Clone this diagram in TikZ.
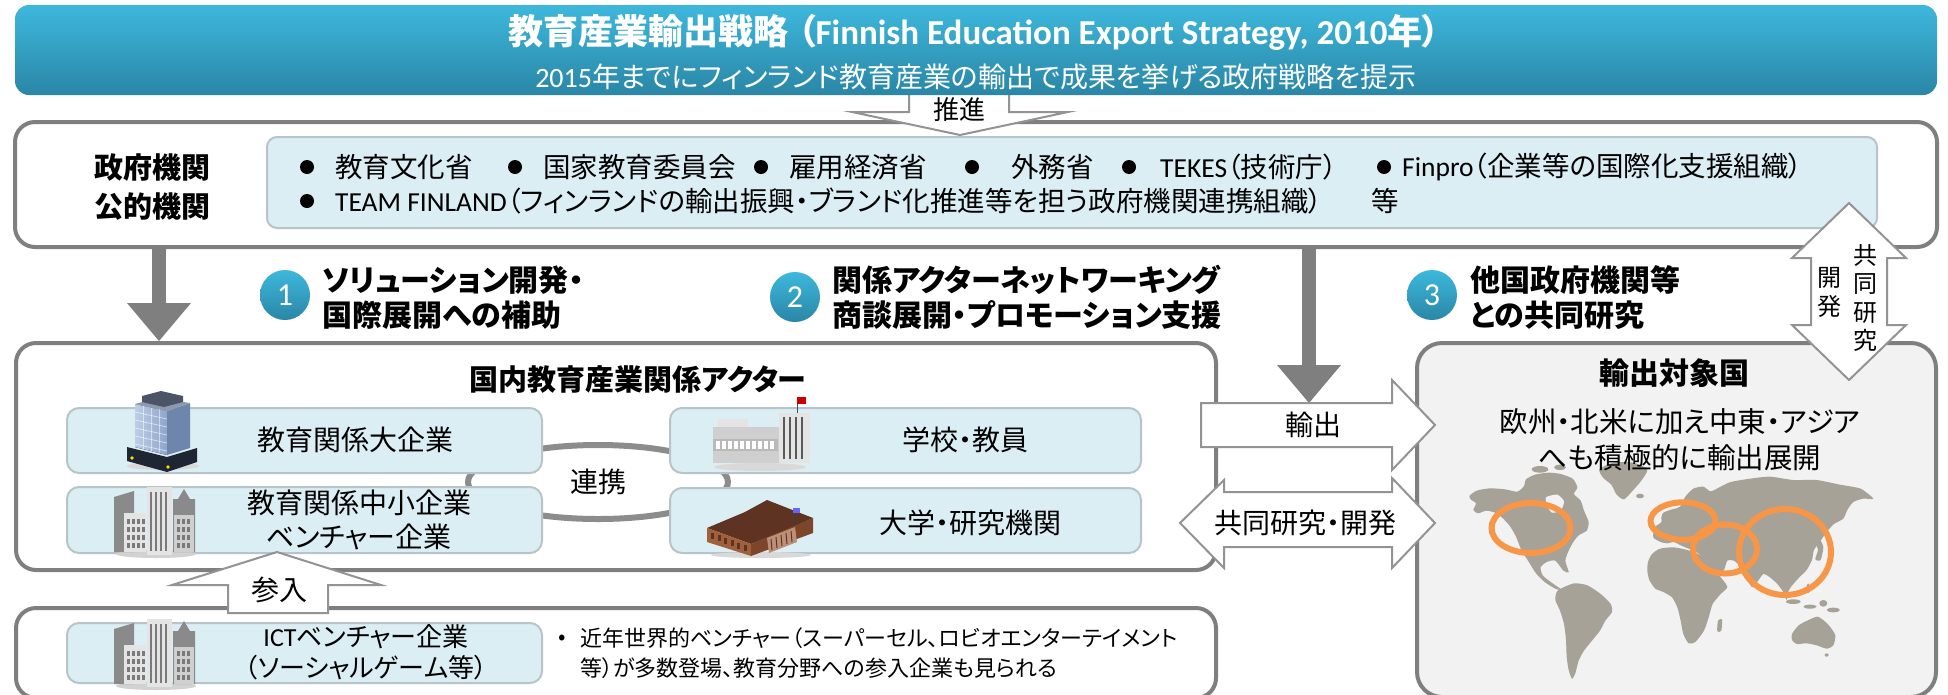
\documentclass[tikz,border=0pt]{standalone}
\usepackage{fontspec}
\setmainfont{Noto Sans CJK JP}[RawFeature=+palt]
\newfontfamily\lat{Carlito}
\usetikzlibrary{arrows.meta,positioning}

\definecolor{boxfill}{HTML}{DBEEF4}
\definecolor{boxline}{HTML}{B7C4CA}
\definecolor{frame}{HTML}{7F7F7F}
\definecolor{teal1}{HTML}{3DB8DC}
\definecolor{teal2}{HTML}{2A86A6}
\definecolor{landgray}{HTML}{A6A298}
\definecolor{ringorange}{HTML}{F79646}
\definecolor{mapbg}{HTML}{F2F2F2}
\definecolor{loopgray}{HTML}{8C8C8C}
\definecolor{towerlight}{HTML}{BCCDE6}
\definecolor{towermid}{HTML}{8EA6CC}
\definecolor{towerdark}{HTML}{6F86AC}
\definecolor{towertop}{HTML}{8D9AAE}
\definecolor{towercap}{HTML}{4B5567}
\definecolor{towerbase}{HTML}{1E2633}
\definecolor{citydark}{HTML}{8A8A8A}
\definecolor{citylight}{HTML}{E4E4E4}
\definecolor{citymid}{HTML}{CFCFCF}
\definecolor{citystripe}{HTML}{7A7A7A}
\definecolor{univroof}{HTML}{5E3322}
\definecolor{univfront}{HTML}{A0603C}
\definecolor{univside}{HTML}{7D4529}

\newcommand{\fsize}[2]{\fontsize{#1}{#2}\selectfont}

\newcommand{\towericon}[1]{%
  \begin{scope}[shift={#1}]
    \fill[gray!30] (36,73) ellipse (36pt and 4pt);
    \fill[towerbase] (0,54) -- (40,64) -- (70,55) -- (70,69) -- (40,79) -- (0,68) -- cycle;
    \fill[left color=towerlight, right color=towermid] (8,11) -- (40,18) -- (40,62) -- (8,54) -- cycle;
    \fill[towerdark] (40,18) -- (63,10) -- (63,55) -- (40,62) -- cycle;
    \fill[towertop] (8,11) -- (31,5) -- (63,10) -- (40,18) -- cycle;
    \fill[towercap] (15,9) -- (15,3) -- (34,-2) -- (56,3) -- (56,9) -- (37,14) -- cycle;
    \foreach \k in {1,...,5}
      \draw[white, opacity=0.6, line width=0.7pt] (8,{11+8*\k}) -- (40,{18+8*\k});
    \foreach \k in {1,...,3}
      \draw[white, opacity=0.5, line width=0.7pt] ({8+8*\k},{11+1.75*\k}) -- ({8+8*\k},{54+1.75*\k});
    \fill[yellow!80!orange] (5,65) circle (1.8pt) (41,74) circle (1.8pt);
  \end{scope}}

\newcommand{\cityicon}[1]{%
  \begin{scope}[shift={#1}]
    \fill[gray!35] (42,67) ellipse (40pt and 4pt);
    \fill[citydark] (0,10) -- (20,4) -- (20,65) -- (0,65) -- cycle;
    \fill[citydark] (59,12) -- (64,12) -- (70,2) -- (76,12) -- (81,12) -- (81,65) -- (59,65) -- cycle;
    \fill[citylight] (10,26) rectangle (32,65);
    \fill[citylight] (33,0) rectangle (58,68);
    \fill[citymid] (60,28) rectangle (80,65);
    \foreach \v in {37,42,...,55}
      \draw[citystripe, line width=2pt] (\v,5) -- (\v,64);
    \foreach \wy in {32,40,48,56} {
      \foreach \wx in {13,18,23,28}
        \fill[citystripe] (\wx,\wy) rectangle ++(3,5);
      \foreach \wx in {63,68,73}
        \fill[citystripe] (\wx,\wy) rectangle ++(3,5);
    }
  \end{scope}}

\newcommand{\schoolicon}[1]{%
  \begin{scope}[shift={#1}]
    \fill[gray!30] (52,70) ellipse (46pt and 4pt);
    \fill[citymid] (5,30) rectangle (72,66);
    \fill[citylight] (10,22) rectangle (40,30);
    \fill[citylight] (71,16) rectangle (102,66);
    \fill[gray!55] (5,42) rectangle (70,54);
    \foreach \wx in {8,14,...,62}
      \fill[white] (\wx,44) rectangle ++(4,8);
    \foreach \v in {76,82,...,98}
      \draw[gray!70!black, line width=2pt] (\v,20) -- (\v,62);
    \draw[gray!60!black, line width=1pt] (89,16) -- (89,0);
    \fill[red!80!black] (89,0) rectangle (98,7);
  \end{scope}}

\newcommand{\univicon}[1]{%
  \begin{scope}[shift={#1}]
    \fill[gray!30] (56,57) ellipse (50pt and 3pt);
    \fill[univroof] (2,30) -- (40,14) -- (62,2) -- (108,20) -- (86,30) -- (46,46) -- cycle;
    \fill[univfront] (2,30) -- (46,46) -- (46,58) -- (2,44) -- cycle;
    \fill[univside] (46,46) -- (108,20) -- (108,35) -- (46,58) -- cycle;
    \foreach \k in {0,...,5}
      \fill[univroof] ({6+6.5*\k},{35+2.4*\k}) rectangle ++(3,6);
    \fill[univfront!70!white] (62,40) -- (90,29) -- (92,44) -- (64,55) -- cycle;
    \foreach \k in {0,...,4}
      \draw[univroof, line width=1pt] ({66+5*\k},{41-2*\k}) -- ({67+5*\k},{52-2*\k});
    \draw[gray!50!black, line width=0.8pt] (88,28) -- (88,10);
    \fill[blue!60] (88,10) rectangle (95,15);
  \end{scope}}

\tikzset{
  outerbox/.style={draw=frame, line width=4pt, fill=white, rounded corners=20pt},
  actorbox/.style={draw=boxline, line width=2pt, fill=boxfill, rounded corners=12pt},
  blockarrow/.style={draw=gray!85, line width=2pt, fill=white, line join=miter},
  downarrow/.style={draw=frame, line width=14pt, -{Triangle[length=38pt, width=64pt, line width=0pt]}},
  numball/.style={circle, minimum size=50pt, inner sep=0pt, top color=teal1, bottom color=teal2, text=white, font=\lat\fsize{32}{32}},
  targetring/.style={draw=ringorange, line width=6pt},
  headtext/.style={font=\bfseries\fsize{30}{35}, align=left, inner sep=0pt, anchor=west},
  boxtext/.style={font=\fsize{28}{34}, align=center},
  dot/.style={circle, fill=black, inner sep=0pt, minimum size=14pt},
  listtext/.style={anchor=west, inner sep=0pt, font=\fsize{27.5}{28}},
}

\begin{document}
\begin{tikzpicture}[x=1pt, y=-1pt]
  \useasboundingbox (0,0) rectangle (1948,694);

  \node[outerbox, minimum width=1922pt, minimum height=125pt] (gov) at (976,184.5) {};
  \draw[blockarrow] (909,80) -- (909,112) -- (852,112) -- (960,135) -- (1068,112) -- (1009,112) -- (1009,80) -- cycle;
  \shade[top color=teal1, bottom color=teal2, rounded corners=14pt] (15,5) rectangle (1937,95);
  \node[text=white, font=\bfseries\fsize{35}{35}] (banner) at (974,32)
    {教育産業輸出戦略\hspace{10pt}（{\lat Finnish Education Export Strategy, 2010}年）};
  \node[text=white, font=\fsize{28}{28}] (bannersub) at (976,77)
    {{\lat 2015}年までにフィンランド教育産業の輸出で成果を挙げる政府戦略を提示};
  \node[font=\fsize{26}{26}] (push) at (959,110) {推進};

  \node[font=\bfseries\fsize{29}{39}, align=center] (govlabel) at (152,187.5) {政府機関\\公的機関};
  \node[actorbox, rounded corners=10pt, minimum width=1610pt, minimum height=91pt] (govlist) at (1072,182.5) {};
  \foreach \bx/\tx/\item [count=\i] in {307/335/教育文化省, 515/543/国家教育委員会, 761/789/雇用経済省,
      972/1011/外務省, 1129/1160/{\lat TEKES}（技術庁）, 1384/1402/{\lat Finpro}（企業等の国際化支援組織）} {
    \node[dot] (gdot\i) at (\bx,167) {};
    \node[listtext] (gitem\i) at (\tx,167) {\item};
  }
  \node[dot] (gdot7) at (307,201) {};
  \node[listtext] (gitem7) at (335,201)
    {{\lat TEAM FINLAND}（フィンランドの輸出振興・ブランド化推進等を担う政府機関連携組織）};
  \node[listtext] (gitem8) at (1371,201) {等};

  \node[outerbox, minimum width=1200pt, minimum height=227pt] (dom) at (616,456.5) {};
  \node[font=\bfseries\fsize{29}{29}] (domtitle) at (638,380) {国内教育産業関係アクター};
  \draw[loopgray, line width=6pt] (598,482) ellipse (130pt and 37pt);
  \node[actorbox, minimum width=475pt, minimum height=65pt] (bigco) at (304.5,440.5) {};
  \node[actorbox, minimum width=475pt, minimum height=66pt] (smallco) at (304.5,520) {};
  \node[actorbox, minimum width=471pt, minimum height=65pt] (school) at (905.5,440.5) {};
  \node[actorbox, minimum width=471pt, minimum height=65pt] (univ) at (905.5,520.5) {};
  \towericon{(127,393)}
  \cityicon{(114,487)}
  \schoolicon{(708,397)}
  \univicon{(705,498)}
  \node[boxtext] (bigcotext) at (355,440) {教育関係大企業};
  \node[boxtext] (smallcotext) at (359,520) {教育関係中小企業\\ベンチャー企業};
  \node[boxtext] (schooltext) at (965,440) {学校・教員};
  \node[boxtext] (univtext) at (970,523) {大学・研究機関};
  \node[boxtext] (link) at (598,482) {連携};

  \node[outerbox, minimum width=1200pt, minimum height=90pt] (ict) at (616,653) {};
  \node[actorbox, minimum width=475pt, minimum height=60pt] (ictco) at (304.5,653) {};
  \cityicon{(114,619)}
  \node[font=\fsize{26}{31}, align=center] (ictcotext) at (366,652.5) {{\lat ICT}ベンチャー企業\\（ソーシャルゲーム等）};
  \node[anchor=west, inner sep=0pt, font=\fsize{22}{22}] (ictdot) at (558,640) {•};
  \node[anchor=west, inner sep=0pt, font=\fsize{22}{30}, align=left] (ictnote) at (580,653)
    {近年世界的ベンチャー（スーパーセル、ロビオエンターテイメント\\等）が多数登場、教育分野への参入企業も見られる};

  \draw[blockarrow] (228,613) -- (228,585) -- (172,585) -- (277,552) -- (381,585) -- (328,585) -- (328,613) -- cycle;
  \node[boxtext] (entry) at (279,590) {参入};

  \node[outerbox, fill=mapbg, rounded corners=25pt, minimum width=519pt, minimum height=354pt] (mapbox) at (1676.5,520) {};
  \begin{scope}[shift={(1440,460)}, scale=0.3333]
    \fill[landgray] plot[smooth cycle, tension=0.4] coordinates {(88,108) (110,92) (150,85) (195,88) (232,95) (252,78) (258,58) (285,44) (325,38) (362,42) (398,56) (412,82) (402,102) (422,122) (432,152) (446,186) (440,212) (416,226) (400,246) (386,272) (376,302) (386,336) (370,332) (346,302) (320,306) (302,322) (308,346) (332,366) (366,390) (346,386) (314,366) (288,340) (264,302) (244,270) (228,230) (208,196) (174,162) (140,152) (114,160) (100,150) (108,130) (94,120)};
    \fill[mapbg] plot[smooth cycle, tension=0.4] coordinates {(318,112) (352,104) (372,124) (362,152) (336,158) (322,138)};
    \fill[landgray] plot[smooth cycle, tension=0.4] coordinates {(478,28) (520,8) (580,8) (622,28) (604,62) (578,92) (552,118) (530,104) (514,74) (490,54)};
    \fill[landgray] plot[smooth cycle, tension=0.4] coordinates {(362,386) (402,370) (442,376) (482,402) (512,432) (516,456) (496,482) (480,512) (456,542) (432,572) (416,602) (406,640) (396,656) (386,630) (380,590) (378,540) (372,492) (360,452) (346,420) (350,396)};
    \fill[landgray] plot[smooth cycle, tension=0.4] coordinates {(640,232) (644,202) (664,186) (668,160) (690,150) (720,140) (736,110) (760,86) (790,80) (812,94) (842,80) (872,66) (930,56) (990,50) (1060,60) (1130,60) (1200,74) (1262,86) (1300,116) (1270,116) (1240,126) (1222,150) (1210,176) (1182,192) (1160,216) (1142,242) (1122,270) (1116,300) (1100,330) (1080,350) (1060,372) (1046,392) (1040,420) (1030,396) (1012,372) (990,352) (970,342) (952,366) (936,382) (920,352) (904,322) (882,302) (862,302) (852,330) (836,342) (816,346) (800,322) (786,292) (770,276) (746,266) (722,256) (702,246) (682,250) (662,246)};
    \fill[landgray] plot[smooth cycle, tension=0.4] coordinates {(624,306) (636,282) (660,266) (700,262) (742,270) (782,286) (802,310) (832,340) (862,380) (842,402) (818,432) (806,472) (792,512) (766,546) (746,550) (730,522) (722,482) (712,442) (696,412) (670,396) (646,386) (628,360) (622,332)};
    \fill[landgray] plot[smooth cycle, tension=0.4] coordinates {(1056,522) (1076,496) (1106,480) (1132,470) (1152,482) (1170,500) (1186,526) (1180,556) (1160,566) (1130,556) (1100,550) (1070,552) (1056,540)};
    \fill[landgray] plot[smooth cycle, tension=0.4] coordinates {(1128,250) (1140,240) (1150,262) (1142,300) (1126,298) (1134,270)};
    \fill[landgray] plot[smooth cycle, tension=0.4] coordinates {(664,172) (674,158) (684,182) (670,192)};
    \fill[landgray] plot[smooth cycle, tension=0.4] coordinates {(834,482) (846,478) (844,512) (832,514)};
    \fill[landgray] (1060,425) ellipse (22 and 7) (1110,440) ellipse (20 and 6) (1150,430) ellipse (12 and 10)
      (1180,450) ellipse (20 and 7) (1105,385) ellipse (6 and 14) (1160,585) ellipse (6 and 5)
      (300,28) ellipse (25 and 10) (360,22) ellipse (18 and 8) (600,108) ellipse (12 and 7);
  \end{scope}
  \draw[targetring] (1531,528) ellipse (39.5pt and 25pt);
  \draw[targetring] (1683,521) ellipse (32.5pt and 18.7pt);
  \draw[targetring] (1725,549) ellipse (32pt and 24.5pt);
  \draw[targetring] (1785,552) ellipse (46pt and 43pt);
  \node[font=\bfseries\fsize{30}{30}] (maptitle) at (1674,373) {輸出対象国};
  \node[font=\fsize{28.5}{36}, align=center] (maptext) at (1680,440) {欧州・北米に加え中東・アジア\\へも積極的に輸出展開};

  \coordinate (leftdrop) at (159,0);
  \coordinate (middrop) at (1309,0);
  \coordinate (exporttop) at (1309,403);
  \draw[downarrow] (gov.south -| leftdrop) -- (dom.north -| leftdrop);
  \draw[downarrow] (gov.south -| middrop) -- (exporttop);

  \draw[blockarrow] (1201,403) -- (1392,403) -- (1392,380) -- (1435,425) -- (1392,470) -- (1392,447) -- (1201,447) -- cycle;
  \node[boxtext] (export) at (1313,425) {輸出};
  \draw[blockarrow] (1180,523) -- (1224,480) -- (1224,492) -- (1392,492) -- (1392,478) -- (1435,523) -- (1392,568)
    -- (1392,547) -- (1224,547) -- (1224,568) -- cycle;
  \node[boxtext] (jointrd) at (1305,523) {共同研究・開発};

  \draw[blockarrow] (1849,203) -- (1906,258) -- (1887,258) -- (1887,325) -- (1906,325) -- (1849,380) -- (1792,325)
    -- (1811,325) -- (1811,258) -- (1792,258) -- cycle;
  \node[font=\fsize{24}{28.5}, align=center] (jointv) at (1865,298) {共\\同\\研\\究};
  \node[font=\fsize{24}{28.5}, align=center] (devv) at (1829,292.5) {開\\発};

  \node[numball] (num1) at (285,295) {1};
  \node[headtext] (head1) at (322,297.5) {ソリューション開発・\\国際展開への補助};
  \node[numball] (num2) at (795,297) {2};
  \node[headtext] (head2) at (832,297.5) {関係アクターネットワーキング\\商談展開・プロモーション支援};
  \node[numball] (num3) at (1432,295) {3};
  \node[headtext] (head3) at (1470,297.5) {他国政府機関等\\との共同研究};
\end{tikzpicture}
\end{document}
